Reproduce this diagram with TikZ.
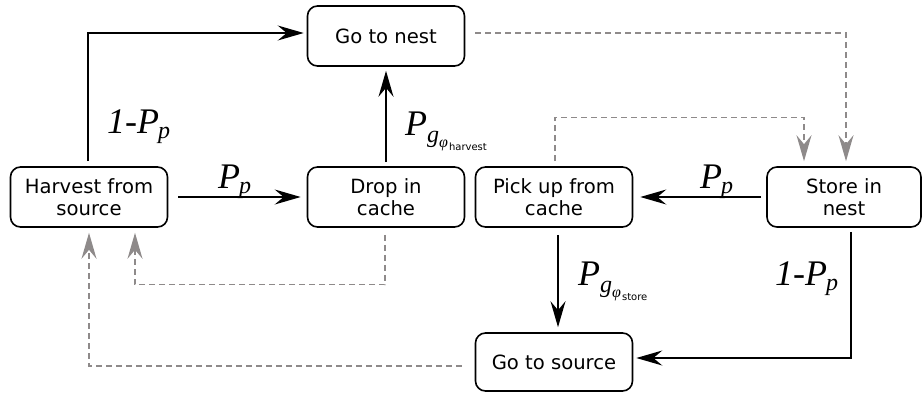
\documentclass[tikz,border=0pt]{standalone}
\usepackage{fontspec}
\setmainfont{DejaVu Sans}
\newfontfamily\tms{Liberation Serif}
\usetikzlibrary{arrows.meta}
\definecolor{dgray}{HTML}{8E8A8A}
\newcommand\Pp{P\kern-1pt\raisebox{-5pt}{\fontsize{24}{24}\selectfont p}}
\newcommand\Pg[1]{P\raisebox{-7pt}{\fontsize{24}{24}\selectfont g\raisebox{-5pt}{\fontsize{16}{16}\selectfont φ\kern1pt\raisebox{-3pt}{\normalfont\fontsize{10}{10}\selectfont #1}}}}
\begin{document}
\begin{tikzpicture}[x=1pt,y=-1pt,
  box/.style={draw,line width=1.6pt,rounded corners=10pt,minimum width=157pt,minimum height=60pt,
    align=center,font=\fontsize{19.6}{22}\selectfont,inner sep=0pt},
  flow/.style={line width=1.3pt,-{Stealth[length=26pt,width=15pt,inset=9pt]}},
  back/.style={line width=1.3pt,dgray,dash pattern=on 6pt off 4pt,-{Stealth[length=26pt,width=15pt,inset=9pt]}},
  lbl/.style={font=\tms\itshape\fontsize{36}{36}\selectfont,inner sep=0pt,anchor=base west}]
\useasboundingbox (0,0) rectangle (923,394);
\node[box] (nest) at (386,36) {Go to nest};
\node[box] (harvest) at (89,197) {Harvest from\\source};
\node[box] (drop) at (386,197) {Drop in\\cache};
\node[box] (pick) at (554,197) {Pick up from\\cache};
\node[box,minimum width=154pt] (store) at (844,197) {Store in\\nest};
\node[box,minimum height=58pt] (source) at (554,362) {Go to source};
% black transitions
\draw[flow,shorten <=5pt,shorten >=3pt] ([xshift=-1pt]harvest.north) |- ([yshift=3pt]nest.west);
\draw[flow,shorten <=10pt,shorten >=6pt] (harvest.east) -- (drop.west);
\draw[flow,shorten <=4pt,shorten >=4pt] (drop.north) -- (nest.south);
\draw[flow,shorten <=5pt,shorten >=7pt] (store.west) -- (pick.east);
\draw[flow,shorten <=7pt,shorten >=5pt] ([xshift=4pt]pick.south) -- ([xshift=4pt]source.north);
\draw[flow,shorten <=4pt,shorten >=3pt] ([xshift=7pt]store.south) |- ([yshift=4pt]source.east);
% dashed returns
\draw[back,shorten <=10pt,shorten >=5pt] ([yshift=3pt]nest.east) -| ([xshift=2pt]store.north);
\draw[back,shorten <=5pt,shorten >=5pt] ([xshift=1pt]pick.north) -- ++(0,-49) -| ([xshift=-40pt]store.north);
\draw[back,shorten <=7pt,shorten >=5pt] ([xshift=-1pt]drop.south) -- ++(0,57) -| ([xshift=46pt]harvest.south);
\draw[back,shorten <=13pt,shorten >=5pt] ([yshift=-4pt]source.west) -| (harvest.south);
% labels
\node[lbl] (l1) at (107,133) {1-\Pp};
\node[lbl] (l2) at (218,188) {\Pp};
\node[lbl] (l3) at (405,135) {\Pg{harvest}};
\node[lbl] (l4) at (700,188) {\Pp};
\node[lbl] (l5) at (578,285) {\Pg{store}};
\node[lbl] (l6) at (775,285) {1-\Pp};
\end{tikzpicture}
\end{document}
